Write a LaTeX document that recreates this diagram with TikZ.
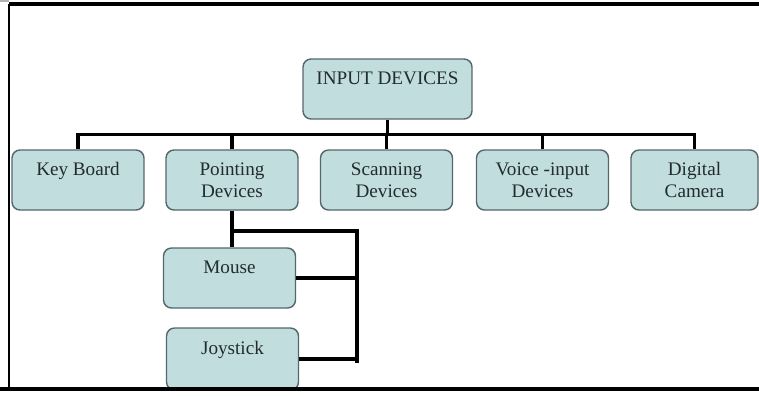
\documentclass[tikz,border=0pt]{standalone}
\usepackage{fontspec}
\setmainfont{Liberation Serif}
\definecolor{boxfill}{HTML}{C2DDDE}
\definecolor{boxline}{HTML}{55676A}
\definecolor{boxtext}{HTML}{222C2E}
\begin{document}
\begin{tikzpicture}[x=.02cm,y=-.02cm,
        box/.style={draw=boxline,fill=boxfill,text=boxtext,rounded corners=.16cm,line width=.8pt,align=center,
            minimum height=1.2cm,minimum width=2.64cm,inner sep=0pt,font=\fontsize{10.9}{12.6}\selectfont},
        link/.style={line width=2pt}]
    \useasboundingbox (0,0) rectangle (759,396);
    \node[box,minimum width=3.38cm] (in) at (387.5,89) {INPUT DEVICES\\~};
    \node[box] (kb) at (78,180) {Key Board\\~};
    \node[box] (pd) at (232,180) {Pointing\\Devices};
    \node[box] (sd) at (386.5,180) {Scanning\\Devices};
    \node[box] (vi) at (542.5,180) {Voice -input\\Devices};
    \node[box,minimum width=2.54cm] (dc) at (694.5,180) {Digital\\Camera};
    \node[box] (ms) at (229.5,278) {Mouse\\~};
    \node[box,minimum height=1.24cm] (js) at (232.5,359) {Joystick\\~};
    \coordinate (bus) at (387,135);
    \coordinate (bt) at (357,231);
    \coordinate (bb) at (357,363);
    \draw[link] (kb.north) -- ++(0,-15) -| (dc.north);
    \foreach \n in {in.south,pd.north,sd.north,vi.north}
        \draw[link] (\n) -- (\n |- bus);
    \draw[link] (pd.south) -- (pd.south |- ms.north);
    \draw[link] (pd.south |- bt) -- (bt) -- (bb);
    \draw[link] (ms.east) -- (ms.east -| bt);
    \draw[link] (js.east) -- (js.east -| bt);
    \draw[line width=1.8pt] (9,4) -- (759,4);
    \draw[line width=1.2pt] (9,4) -- (9,389);
    \draw[line width=1.8pt] (0,389) -- (759,389);
    \draw[gray!60,line width=.6pt] (0,1) -- (9,1);
\end{tikzpicture}
\end{document}
